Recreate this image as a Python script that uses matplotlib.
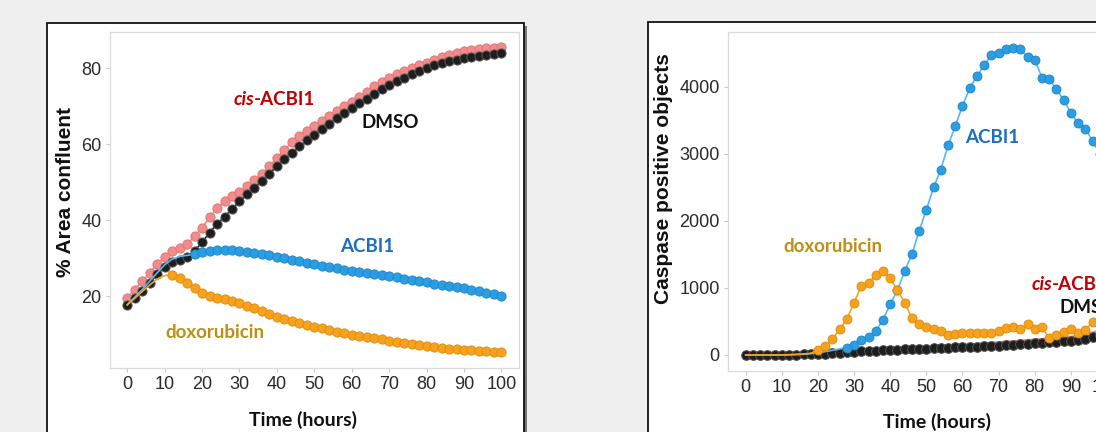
import numpy as np
import matplotlib
matplotlib.use("Agg")
import matplotlib.pyplot as plt
from matplotlib.patches import Rectangle

# ---------------- data ----------------
hours = list(range(0, 101, 2))

# Left panel: % Area confluent
conf_dmso = [17.8, 19.5, 21.5, 23.5, 25.8, 27.8, 29.0, 29.6, 30.3, 32.0, 34.2, 36.8, 39.0,
             41.0, 43.0, 45.0, 46.8, 48.6, 50.4, 52.3, 54.2, 56.0, 57.8, 59.5, 61.0, 62.5,
             64.0, 65.4, 66.8, 68.2, 69.5, 70.8, 72.0, 73.3, 74.5, 75.6, 76.6, 77.5, 78.4,
             79.2, 80.0, 80.7, 81.3, 81.8, 82.2, 82.6, 83.0, 83.3, 83.5, 83.7, 83.9]
conf_cis = [19.6, 21.8, 24.0, 26.2, 28.5, 30.5, 32.0, 32.8, 33.8, 35.8, 38.0, 40.8, 43.2,
            45.0, 46.3, 47.5, 49.0, 50.5, 52.2, 54.3, 56.4, 58.5, 60.5, 62.3, 63.6, 64.7,
            66.0, 67.3, 68.8, 70.0, 71.2, 72.5, 73.8, 75.2, 76.3, 77.4, 78.4, 79.3, 80.1,
            80.8, 81.4, 82.1, 82.8, 83.4, 83.9, 84.4, 84.8, 85.0, 85.2, 85.3, 85.5]
conf_acbi = [17.8, 19.8, 21.8, 24.0, 26.2, 28.3, 29.8, 30.5, 30.8, 31.1, 31.6, 32.0, 32.2,
             32.3, 32.2, 32.0, 31.8, 31.5, 31.2, 30.9, 30.5, 30.1, 29.7, 29.3, 28.9, 28.5,
             28.1, 27.7, 27.4, 27.0, 26.7, 26.4, 26.1, 25.8, 25.6, 25.3, 25.0, 24.7, 24.4,
             24.0, 23.7, 23.4, 23.1, 22.8, 22.5, 22.2, 21.8, 21.4, 21.0, 20.6, 20.2]
conf_doxo = [17.8, 19.5, 21.3, 23.0, 24.6, 25.5, 25.7, 24.9, 23.5, 22.2, 20.9, 20.2, 19.7,
             19.3, 18.8, 18.3, 17.6, 16.9, 16.1, 15.4, 14.7, 14.2, 13.6, 13.1, 12.6, 12.1,
             11.6, 11.2, 10.7, 10.3, 9.9, 9.6, 9.3, 9.0, 8.7, 8.4, 8.1, 7.8, 7.5, 7.2, 6.9,
             6.7, 6.5, 6.3, 6.1, 6.0, 5.8, 5.7, 5.6, 5.5, 5.4]

# Right panel: Caspase positive objects
casp_dmso = [0, 0, 0, 0, 0, 0, 3, 5, 8, 10, 15, 20, 27, 33, 40, 46, 52, 58, 63, 68, 73, 78,
             83, 88, 92, 96, 100, 104, 108, 112, 116, 121, 126, 131, 136, 141, 147, 153, 159,
             166, 173, 180, 187, 194, 201, 210, 222, 242, 268, 295, 320]
casp_cis = [0, 0, 0, 0, 0, 2, 5, 8, 12, 15, 20, 25, 30, 36, 42, 48, 54, 60, 66, 71, 76, 82,
            88, 95, 102, 110, 118, 126, 134, 142, 150, 158, 166, 174, 182, 190, 198, 206, 214,
            222, 230, 238, 246, 254, 262, 272, 288, 310, 338, 365, 390]
casp_acbi = [0, 0, 0, 0, 0, 0, 2, 5, 10, 20, 30, 50, 70, 90, 110, 149, 224, 273, 358, 522,
             760, 964, 1252, 1501, 1849, 2165, 2500, 2765, 3125, 3410, 3715, 3980, 4155, 4325,
             4467, 4495, 4560, 4572, 4560, 4447, 4398, 4136, 4115, 3966, 3801, 3607, 3453,
             3376, 3190, 3000, 2850]
casp_doxo = [0, 0, 0, 0, 0, 0, 5, 10, 15, 25, 80, 140, 240, 380, 540, 780, 1029, 1068, 1193,
             1252, 1143, 969, 780, 547, 460, 410, 380, 358, 305, 320, 323, 323, 323, 323, 330,
             358, 398, 415, 380, 460, 380, 415, 249, 293, 340, 380, 323, 373, 490, 540, 580]

left_xticks = list(range(0, 101, 10))
left_yticks = [20, 40, 60, 80]
right_xticks = list(range(0, 101, 10))
right_yticks = [0, 1000, 2000, 3000, 4000]

# ---------------- style ----------------
W, H = 1096, 432
C_PINK, C_PINK_E = "#f28c8c", "#e07575"
C_BLACK, C_BLACK_E = "#1e1e1e", "#555555"
C_BLUE, C_BLUE_E, C_BLUE_L = "#2b9de2", "#1f88cc", "#5ab6ee"
C_ORANGE, C_ORANGE_E = "#f7a21c", "#e08e10"
TICK_FONT = "Liberation Sans"
LAB_FONT = "Lato"

fig = plt.figure(figsize=(W / 100, H / 100), dpi=100)
fig.patch.set_facecolor("#efefef")


def frame(x0, y0, x1, y1):
    # shadow
    fig.patches.append(Rectangle((x0 / W + 3 / W, 1 - y1 / H - 3 / H), (x1 - x0) / W, (y1 - y0) / H,
                                 transform=fig.transFigure, facecolor="#7a7a7a", edgecolor="none",
                                 zorder=-3))
    fig.patches.append(Rectangle((x0 / W, 1 - y1 / H), (x1 - x0) / W, (y1 - y0) / H,
                                 transform=fig.transFigure, facecolor="white", edgecolor="#111111",
                                 linewidth=1.3, zorder=-2))


frame(47, 23, 524, 470)
frame(648, 22, 1145, 470)


def style_axes(ax):
    for s in ax.spines.values():
        s.set_color("#dadada")
        s.set_linewidth(0.9)
    ax.tick_params(axis="both", length=3, width=0.8, color="#c8c8c8", labelcolor="#2a2a2a",
                   labelsize=13, pad=3)
    for lab in ax.get_xticklabels() + ax.get_yticklabels():
        lab.set_fontfamily(TICK_FONT)
    ax.set_facecolor("white")


def series(ax, x, y, col, ecol, lcol, ms, start=0, z=2, lw=1.2):
    ax.plot(x, y, color=lcol, lw=lw, marker="o", ms=ms, mfc=col, mec=ecol, mew=0.7,
            markevery=slice(start, None), zorder=z)


# ---------------- left panel ----------------
axL = fig.add_axes([110 / W, 1 - 368 / H, 409 / W, 336 / H])
series(axL, hours, conf_cis, C_PINK, C_PINK_E, C_PINK, 6.6, z=2)
series(axL, hours, conf_dmso, C_BLACK, C_BLACK_E, C_BLACK, 6.6, z=3)
series(axL, hours, conf_acbi, C_BLUE, C_BLUE_E, C_BLUE_L, 6.6, start=9, z=4)
series(axL, hours, conf_doxo, C_ORANGE, C_ORANGE_E, C_ORANGE, 6.6, start=6, z=5)
axL.set_xlim(-4.6, 104.7)
axL.set_ylim(1.2, 89.5)
axL.set_xticks(left_xticks)
axL.set_yticks(left_yticks)
style_axes(axL)
axL.set_ylabel("% Area confluent", fontfamily=TICK_FONT, fontweight="bold", fontsize=15,
               color="#111111", va="center")
axL.yaxis.set_label_coords(-0.110, 0.524)
axL.set_xlabel("Time (hours)", fontfamily=LAB_FONT, fontweight="bold", fontsize=14,
               color="#111111", va="center")
axL.xaxis.set_label_coords(0.472, -0.155)

LFS = 13.5
t1 = axL.text(28.3, 71.7, "cis", fontfamily=LAB_FONT, fontweight="bold", fontstyle="italic",
              fontsize=LFS, color="#c00000", ha="left", va="center")
axL.annotate("-ACBI1", xy=(1, 0), xycoords=t1, ha="left", va="bottom", fontfamily=LAB_FONT,
             fontweight="bold", fontsize=LFS, color="#c00000")
axL.text(70.2, 65.8, "DMSO", fontfamily=LAB_FONT, fontweight="bold", fontsize=LFS,
         color="#111111", ha="center", va="center")
axL.text(64.2, 33.1, "ACBI1", fontfamily=LAB_FONT, fontweight="bold", fontsize=LFS,
         color="#1b6ec2", ha="center", va="center")
axL.text(23.5, 10.6, "doxorubicin", fontfamily=LAB_FONT, fontweight="bold", fontsize=LFS,
         color="#bb9015", ha="center", va="center")

# ---------------- right panel ----------------
axR = fig.add_axes([728 / W, 1 - 371 / H, 396 / W, 339 / H])
series(axR, hours, casp_cis, C_PINK, C_PINK_E, C_PINK, 6.4, start=51, z=2, lw=1.6)
series(axR, hours, casp_dmso, C_BLACK, C_BLACK_E, C_BLACK, 7.0, z=3)
series(axR, hours, casp_acbi, C_BLUE, C_BLUE_E, C_BLUE_L, 6.4, start=14, z=4)
series(axR, hours, casp_doxo, C_ORANGE, C_ORANGE_E, C_ORANGE, 6.4, start=10, z=5)
axR.set_xlim(-4.9, 104.7)
axR.set_ylim(-239, 4815)
axR.set_xticks(right_xticks)
axR.set_yticks(right_yticks)
style_axes(axR)
axR.set_ylabel("Caspase positive objects", fontfamily=TICK_FONT, fontweight="bold", fontsize=15,
               color="#111111", va="center")
axR.yaxis.set_label_coords(-0.164, 0.569)
axR.set_xlabel("Time (hours)", fontfamily=LAB_FONT, fontweight="bold", fontsize=14,
               color="#111111", va="center")
axR.xaxis.set_label_coords(0.529, -0.150)

axR.text(68.2, 3239, "ACBI1", fontfamily=LAB_FONT, fontweight="bold", fontsize=LFS,
         color="#1b6ec2", ha="center", va="center")
axR.text(24.1, 1614, "doxorubicin", fontfamily=LAB_FONT, fontweight="bold", fontsize=LFS,
         color="#bb9015", ha="center", va="center")
t2 = axR.text(79.1, 1044, "cis", fontfamily=LAB_FONT, fontweight="bold", fontstyle="italic",
              fontsize=LFS, color="#c00000", ha="left", va="center", clip_on=False)
axR.annotate("-ACBI1", xy=(1, 0), xycoords=t2, ha="left", va="bottom", fontfamily=LAB_FONT,
             fontweight="bold", fontsize=LFS, color="#c00000")
axR.text(86.8, 705, "DMSO", fontfamily=LAB_FONT, fontweight="bold", fontsize=LFS,
         color="#111111", ha="left", va="center")

fig.savefig("out.png", dpi=100, facecolor=fig.get_facecolor())
